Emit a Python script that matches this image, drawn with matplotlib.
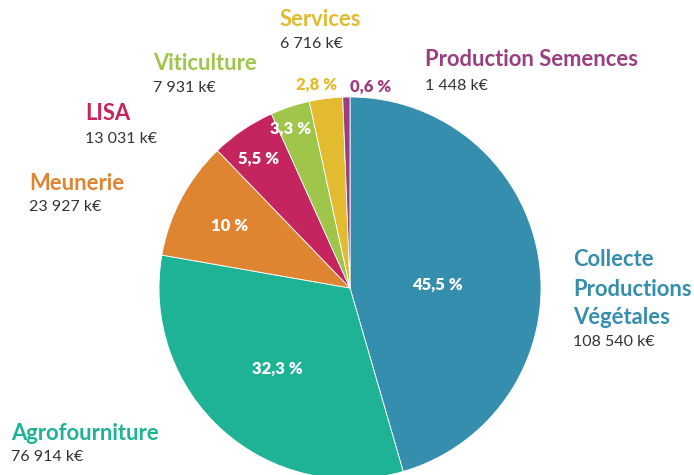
import numpy as np
import matplotlib
matplotlib.use('Agg')
from matplotlib import pyplot as plt

plt.rcParams['font.family'] = ['Lato', 'DejaVu Sans']

# data
names = ['Collecte\nProductions\nVégétales', 'Agrofourniture', 'Meunerie', 'LISA',
         'Viticulture', 'Services', 'Production Semences']
values = [108540, 76914, 23927, 13031, 7931, 6716, 1448]
pct_labels = ['45,5 %', '32,3 %', '10 %', '5,5 %', '3,3 %', '2,8 %', '0,6 %']
value_labels = ['108 540 k€', '76 914 k€', '23 927 k€', '13 031 k€', '7 931 k€', '6 716 k€', '1 448 k€']

colors = ['#358EAD', '#1FB396', '#DF8430', '#C5255F', '#9FC54A', '#E2BB30', '#9B3E80']

W, H = 694, 475
cx, cy, R = 350, 288, 191

# label layout (pixel coords, top-left origin): name anchor x, name y, value y
name_pos = [(573, 260, 342), (11, 433, 457), (29, 183, 207), (85, 114, 139),
            (153, 64, 88), (280, 20, 44), (425, 60, 86)]
# percentage label radius (fraction of R) and angle offset (deg)
pct_r = [0.46, 0.57, 0.71, 0.83, 0.89, 1.08, 1.06]
pct_da = [-6, 0, 1, 1, 2, 2, -7]


def py(y):
    return H - y


fig = plt.figure(figsize=(W / 100, H / 100), dpi=100)
ax = fig.add_axes([0, 0, 1, 1])

wedges, _ = ax.pie(values, colors=colors, startangle=90, counterclock=False,
                   center=(cx, py(cy)), radius=R, frame=True,
                   wedgeprops=dict(edgecolor='white', linewidth=0.6))
ax.set_xlim(0, W)
ax.set_ylim(0, H)
ax.set_aspect('equal')
ax.axis('off')

for i, w in enumerate(wedges):
    mid = np.deg2rad((w.theta1 + w.theta2) / 2 + pct_da[i])
    x = cx + pct_r[i] * R * np.cos(mid)
    y = py(cy) + pct_r[i] * R * np.sin(mid)
    c = 'white' if pct_r[i] < 1 else colors[i]
    ax.text(x, y, pct_labels[i], color=c, fontsize=12, fontweight='heavy',
            ha='center', va='center')

for i, (x, yn, yv) in enumerate(name_pos):
    lines = names[i].split('\n')
    for k, line in enumerate(lines):
        ax.text(x, py(yn + k * 29), line, color=colors[i], fontsize=15.8,
                fontweight='bold', ha='left', va='center')
    ax.text(x, py(yv), value_labels[i], color='#333333', fontsize=11.5,
            ha='left', va='center')

fig.savefig('out.png', dpi=100)
